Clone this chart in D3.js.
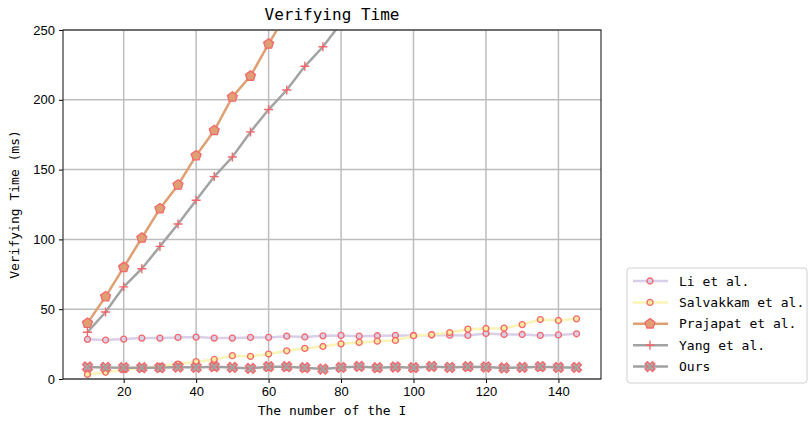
<!DOCTYPE html>
<html>
<head>
<meta charset="utf-8">
<script src="https://cdnjs.cloudflare.com/ajax/libs/d3/7.8.5/d3.min.js"></script>
<style>
body { margin: 0; background: #fff; }
text { fill: #000; }
.mono { font-family: "DejaVu Sans Mono", "Liberation Mono", monospace; }
.tick text { font-family: "Liberation Sans", Arial, sans-serif; font-size: 13px; }
</style>
</head>
<body>
<div id="graphicContainer"></div>
<script>
// x values: the number of the I
var nValues = [10, 15, 20, 25, 30, 35, 40, 45, 50, 55, 60, 65, 70, 75, 80, 85, 90, 95, 100, 105, 110, 115, 120, 125, 130, 135, 140, 145]

var liValues = [28.4, 27.9, 28.6, 29.3, 29.3, 29.8, 30, 29.3, 29.3, 29.8, 29.8, 30.7, 30.1, 30.9, 31.2, 30.7, 31, 31.2, 31.2, 31.6, 31.4, 31.2, 32.6, 31.9, 31.9, 31.2, 31.6, 32.4]
var salvakkamValues = [3.3, 4.8, 6.7, 8.1, 9.0, 10.7, 12.4, 14, 16.7, 16.2, 17.9, 20.2, 21.9, 23.3, 25.2, 26.2, 27.1, 27.6, 31, 31.7, 33.3, 35.7, 36.2, 36.4, 39, 42.6, 41.9, 43.1]
var prajapatValues = [40, 59, 80, 101, 122, 139, 160, 178, 202, 217, 240, 262, 281, 300, 321, 340, 361, 380, 401, 420, 440, 459, 480, 500, 519, 540, 560, 579]
var yangValues = [33.5, 48, 66, 79, 95, 111, 128, 145, 159, 177, 193, 207, 224, 238, 255, 271, 288, 303, 319, 336, 351, 368, 384, 400, 416, 432, 448, 464]
var oursValues = [8.6, 8.3, 8.1, 8.1, 8.1, 8.6, 8.3, 8.8, 8.3, 7.6, 8.8, 8.8, 8.1, 7.1, 8.3, 9.0, 8.1, 8.6, 8.1, 9.0, 8.3, 8.8, 8.6, 7.9, 8.3, 8.8, 8.3, 8.3]

var seriesNames = ["Li et al.", "Salvakkam et al.", "Prajapat et al.", "Yang et al.", "Ours"]
var xTicks = [20, 40, 60, 80, 100, 120, 140]
var yTicks = [0, 50, 100, 150, 200, 250]

var series = [
	{name: seriesNames[0], values: liValues, line: "#d9cfe8", face: "#d9cfe8", marker: "circle"},
	{name: seriesNames[1], values: salvakkamValues, line: "#fbf4b4", face: "#fbe9a0", marker: "circle"},
	{name: seriesNames[2], values: prajapatValues, line: "#df9f72", face: "#df9f72", marker: "pentagon"},
	{name: seriesNames[3], values: yangValues, line: "#a3a3a3", face: "none", marker: "plus"},
	{name: seriesNames[4], values: oursValues, line: "#a0a0a0", face: "#a0a0a0", marker: "x"}
]

var width = 809,
	height = 427,
	margin = {left: 63, right: 208, top: 30, bottom: 48},
	markerEdge = "#f4676b";

var svg = d3.select("#graphicContainer")
			.append("svg")
			.attr('width', width)
			.attr('height', height),
	g = svg.append("g");

var x = d3.scaleLinear().domain([3.25, 151.75]).range([margin.left, width - margin.right])
var y = d3.scaleLinear().domain([0, 250]).range([height - margin.bottom, margin.top])

svg.append("defs").append("clipPath").attr("id", "plotClip")
	.append("rect")
	.attr("x", margin.left).attr("y", margin.top)
	.attr("width", x.range()[1] - margin.left)
	.attr("height", y.range()[0] - margin.top)

// grid
g.selectAll('.xgrid').data(xTicks).enter().append('line')
	.attr('x1', function(d){ return x(d) }).attr('x2', function(d){ return x(d) })
	.attr('y1', y.range()[0]).attr('y2', y.range()[1])
	.attr('stroke', '#bdbdbd').attr('stroke-width', 1.5)
g.selectAll('.ygrid').data(yTicks).enter().append('line')
	.attr('y1', function(d){ return y(d) }).attr('y2', function(d){ return y(d) })
	.attr('x1', x.range()[0]).attr('x2', x.range()[1])
	.attr('stroke', '#bdbdbd').attr('stroke-width', 1.5)

function markerPath(type){
	if(type=="circle") return d3.symbol().type(d3.symbolCircle).size(28)()
	if(type=="pentagon"){
		var pts = d3.range(5).map(function(i){
			var a = -Math.PI/2 + i*2*Math.PI/5
			return [5.2*Math.cos(a), 5.2*Math.sin(a)]
		})
		return "M" + pts.join("L") + "Z"
	}
	if(type=="plus") return "M-4.5,0H4.5M0,-4.5V4.5"
	return d3.symbol().type(d3.symbolCross).size(62)()
}

function drawMarker(sel, s){
	sel.append('path')
		.attr('d', markerPath(s.marker))
		.attr('transform', s.marker=="x" ? "rotate(45)" : null)
		.attr('fill', s.face)
		.attr('fill-opacity', s.marker=="x" ? 0.9 : 1)
		.attr('stroke', markerEdge)
		.attr('stroke-width', s.marker=="plus" ? 1.4 : 1.3)
}

var line = d3.line()
	.x(function(d){ return x(d[0]) })
	.y(function(d){ return y(d[1]) })

var plot = g.append('g').attr('clip-path', 'url(#plotClip)')

series.forEach(function(s){
	var pts = nValues.map(function(n, i){ return [n, s.values[i]] })
	plot.append('path')
		.datum(pts)
		.attr('d', line)
		.attr('fill', 'none')
		.attr('stroke', s.line)
		.attr('stroke-width', 2.5)

	plot.selectAll('.m').data(pts.filter(function(d){ return d[1] <= 256 })).enter().append('g')
		.attr('transform', function(d){ return "translate(" + x(d[0]) + "," + y(d[1]) + ")" })
		.each(function(){ drawMarker(d3.select(this), s) })
})

// axes
var xAxis = g.append('g')
	.attr('transform', "translate(0," + y.range()[0] + ")")
	.call(d3.axisBottom(x).tickValues(xTicks).tickSize(4).tickPadding(4))
var yAxis = g.append('g')
	.attr('transform', "translate(" + x.range()[0] + ",0)")
	.call(d3.axisLeft(y).tickValues(yTicks).tickSize(4).tickPadding(4))
xAxis.select('.domain').remove()
yAxis.select('.domain').remove()

g.append('rect')
	.attr('x', x.range()[0]).attr('y', y.range()[1])
	.attr('width', x.range()[1] - x.range()[0])
	.attr('height', y.range()[0] - y.range()[1])
	.attr('fill', 'none').attr('stroke', '#222').attr('stroke-width', 1.1)

// titles
g.append('text').attr('class', 'mono')
	.attr('x', (x.range()[0] + x.range()[1])/2).attr('y', 20)
	.attr('text-anchor', 'middle').attr('font-size', '16px')
	.text("Verifying Time")
g.append('text').attr('class', 'mono')
	.attr('x', (x.range()[0] + x.range()[1])/2).attr('y', 415)
	.attr('text-anchor', 'middle').attr('font-size', '13px')
	.text("The number of the I")
g.append('text').attr('class', 'mono')
	.attr('transform', "translate(19," + (y.range()[0] + y.range()[1])/2 + ") rotate(-90)")
	.attr('text-anchor', 'middle').attr('font-size', '13px')
	.text("Verifying Time (ms)")

// legend
var legend = g.append('g').attr('transform', "translate(627,268)")
legend.append('rect')
	.attr('width', 180).attr('height', 115).attr('rx', 3)
	.attr('fill', '#fff').attr('stroke', '#d0d0d0')

var legendItem = legend.selectAll('.legendItem')
	.data(series)
	.enter().append('g')
	.attr('transform', function(d, i){ return "translate(0," + (13 + i*21.4) + ")" })

legendItem.append('line')
	.attr('x1', 6).attr('x2', 41)
	.attr('stroke', function(d){ return d.line })
	.attr('stroke-width', 2.5)
legendItem.append('g')
	.attr('transform', "translate(23,0)")
	.each(function(d){ drawMarker(d3.select(this), d) })
legendItem.append('text').attr('class', 'mono')
	.attr('x', 52).attr('dy', '.35em').attr('font-size', '13px')
	.text(function(d){ return d.name })
</script>
</body>
</html>
